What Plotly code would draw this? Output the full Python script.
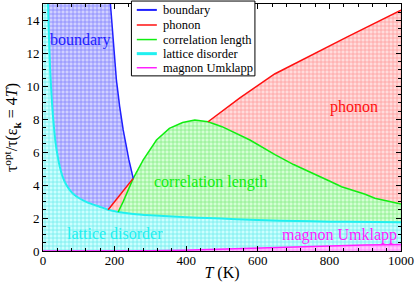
import plotly.graph_objects as go

# ---------------- data ----------------
# lattice disorder (cyan) boundary curve
T_lat = [1, 4, 8, 14, 17, 20, 24, 28, 35, 41, 47, 55, 65, 75, 85, 100, 112, 135, 158, 182, 210, 252, 300, 350, 400, 461, 500, 578, 662, 750, 850, 1000]
lat   = [150, 40, 22, 15, 12.8, 11.0, 9.4, 8.15, 6.6, 5.75, 5.12, 4.5, 4.02, 3.7, 3.46, 3.22, 3.08, 2.86, 2.69, 2.5, 2.37, 2.25, 2.17, 2.11, 2.05, 2.0, 1.97, 1.9, 1.84, 1.8, 1.77, 1.75]

# magnon Umklapp (magenta)
T_mag = [0, 100, 200, 300, 390, 500, 600, 700, 800, 900, 1000]
mag   = [0, 0, 0, 0.01, 0.05, 0.13, 0.2, 0.26, 0.31, 0.36, 0.4]

# boundary (blue)
T_bnd = [184, 188, 196, 205, 214, 224, 240, 252]
bnd   = [16.2, 15.0, 12.8, 10.4, 8.8, 7.35, 5.53, 4.41]

# phonon (red)
T_ph = [182, 200, 224, 252, 300, 350, 400, 461, 550, 647, 750, 850, 1000]
ph   = [2.5, 3.0, 3.6, 4.41, 5.4, 6.3, 7.05, 7.85, 9.3, 10.75, 11.9, 13.0, 14.63]

# correlation length (green)
T_cor = [210, 224, 252, 280, 317, 353, 390, 424, 461, 500, 578, 648, 700, 741, 800, 834, 900, 927, 1000]
cor   = [2.37, 3.0, 4.41, 5.53, 6.74, 7.45, 7.8, 7.95, 7.85, 7.55, 6.74, 5.85, 5.25, 4.82, 4.25, 3.9, 3.45, 3.2, 2.85]

# text labels
region_labels = ["boundary", "phonon", "correlation length", "lattice disorder", "magnon Umklapp"]
label_T = [103, 868, 469, 200, 829]
label_y = [12.8, 8.74, 4.19, 1.09, 0.97]

legend_names = ["boundary", "phonon", "correlation length", "lattice disorder", "magnon Umklapp"]

# ---------------- styling ----------------
C_BND, C_PH, C_COR, C_LAT, C_MAG = "#2020ff", "#ff1010", "#10ee10", "#20f0f0", "#ff20ff"
FONT = "Liberation Serif, Times New Roman, DejaVu Serif, serif"


def seg(T, Y, lo, hi):
    xs, ys = [], []
    for t, y in zip(T, Y):
        if lo <= t <= hi:
            xs.append(t)
            ys.append(y)
    return xs, ys


def rev(a):
    return list(reversed(a))


def pattern(fg, bg):
    return dict(shape="+", size=4, solidity=0.35, fgcolor=fg, bgcolor=bg, fgopacity=0.6)


fig = go.Figure()

# --- blue region: between cyan (then red) and blue
x1, y1 = seg(T_lat, lat, 4, 182)
x2, y2 = seg(T_ph, ph, 182, 252)
fig.add_trace(go.Scatter(x=x1 + x2 + rev(T_bnd), y=y1 + y2 + rev(bnd), mode="lines",
                         line=dict(width=0), fill="toself", fillcolor="#c8c8ff",
                         fillpattern=pattern("#5050ff", "#d0d0ff"), hoverinfo="skip"))

# --- red region: two lobes where phonon lies above the lower curves
xa, ya = seg(T_lat, lat, 182, 210)
xb, yb = seg(T_cor, cor, 224, 252)
xc, yc = seg(T_ph, ph, 182, 252)
xd, yd = seg(T_cor, cor, 461, 1000)
xe, ye = seg(T_ph, ph, 461, 1000)
fig.add_trace(go.Scatter(x=xa + xb + rev(xc) + [None] + xd + rev(xe),
                         y=ya + yb + rev(yc) + [None] + yd + rev(ye), mode="lines",
                         line=dict(width=0), fill="toself", fillcolor="#ffd0d0",
                         fillpattern=pattern("#ff7070", "#ffdcdc"), hoverinfo="skip"))

# --- green region: between cyan and green
xl, yl = seg(T_lat, lat, 210, 1000)
fig.add_trace(go.Scatter(x=T_cor + rev(xl), y=cor + rev(yl), mode="lines",
                         line=dict(width=0), fill="toself", fillcolor="#c8ffc8",
                         fillpattern=pattern("#50e050", "#d4ffd4"), hoverinfo="skip"))

# --- cyan region: between magenta and cyan
fig.add_trace(go.Scatter(x=T_lat + rev(T_mag), y=lat + rev(mag), mode="lines",
                         line=dict(width=0), fill="toself", fillcolor="#c0ffff",
                         fillpattern=pattern("#30e0e0", "#ccffff"), hoverinfo="skip"))

# --- magenta region
fig.add_trace(go.Scatter(x=T_mag, y=mag, mode="lines", line=dict(width=0),
                         fill="tozeroy", fillcolor="#ffc0ff",
                         fillpattern=pattern("#ff50ff", "#ffccff"), hoverinfo="skip"))

# ---------------- boundary lines ----------------
fig.add_trace(go.Scatter(x=T_lat, y=lat, mode="lines", line=dict(color=C_LAT, width=2, shape="spline", smoothing=0.6)))
fig.add_trace(go.Scatter(x=T_mag, y=mag, mode="lines", line=dict(color=C_MAG, width=1.5)))
fig.add_trace(go.Scatter(x=T_cor, y=cor, mode="lines", line=dict(color=C_COR, width=1.5)))
fig.add_trace(go.Scatter(x=xc + [None] + xe, y=yc + [None] + ye, mode="lines",
                         line=dict(color=C_PH, width=1.5)))
fig.add_trace(go.Scatter(x=T_bnd, y=bnd, mode="lines", line=dict(color=C_BND, width=1.5)))

# ---------------- region labels ----------------
label_colors = [C_BND, C_PH, C_COR, C_LAT, C_MAG]
for txt, tx, ty, col in zip(region_labels, label_T, label_y, label_colors):
    fig.add_annotation(x=tx, y=ty, text=txt, showarrow=False,
                       font=dict(family=FONT, size=16, color=col))

# ---------------- manual legend box ----------------
L, R, TOP, BOT = 0.247, 0.592, 1.012, 0.709
fig.add_shape(type="rect", xref="paper", yref="paper", x0=L, x1=R, y0=BOT, y1=TOP,
              line=dict(color="black", width=1), fillcolor="white", layer="above")
leg_y = [0.976, 0.915, 0.856, 0.799, 0.742]
leg_w = [2, 1.5, 1.5, 3, 1.5]
for name, col, yy, w in zip(legend_names, label_colors, leg_y, leg_w):
    fig.add_shape(type="line", xref="paper", yref="paper", x0=0.262, x1=0.318, y0=yy, y1=yy,
                  line=dict(color=col, width=w), layer="above")
    fig.add_annotation(xref="paper", yref="paper", x=0.331, y=yy, text=name, showarrow=False,
                       xanchor="left", yanchor="middle",
                       font=dict(family=FONT, size=12.5, color="black"))

axis_common = dict(showline=True, linecolor="black", linewidth=1, mirror="ticks",
                   ticks="inside", ticklen=5, tickcolor="black", showgrid=False, zeroline=False,
                   automargin=False,
                   tickfont=dict(family=FONT, size=13, color="black"))

fig.update_layout(
    template="none",
    font=dict(family=FONT, color="black"),
    width=415, height=283,
    margin=dict(l=43, r=14, t=4, b=32),
    paper_bgcolor="white", plot_bgcolor="white",
    showlegend=False,
    hovermode=False,
    xaxis=dict(range=[0, 1000], dtick=200, tick0=0, ticklabelstandoff=-3,
               minor=dict(dtick=40, ticks="inside", ticklen=3, tickcolor="black"),
               title=dict(text="<i>T</i> (K)", font=dict(family=FONT, size=16, color="black"), standoff=0),
               **axis_common),
    yaxis=dict(range=[0, 15], dtick=2, tick0=0,
               minor=dict(dtick=0.5, ticks="inside", ticklen=3, tickcolor="black"),
               title=dict(text="τ<sup>opt</sup>/τ(ε<sub><b>k</b></sub> = 4<i>T</i>)",
                          font=dict(family=FONT, size=16, color="black"), standoff=4),
               **axis_common),
)

fig.write_html("out.html", config={"displayModeBar": False},
               post_script="document.body.style.margin='0px';document.body.style.overflow='hidden';")
